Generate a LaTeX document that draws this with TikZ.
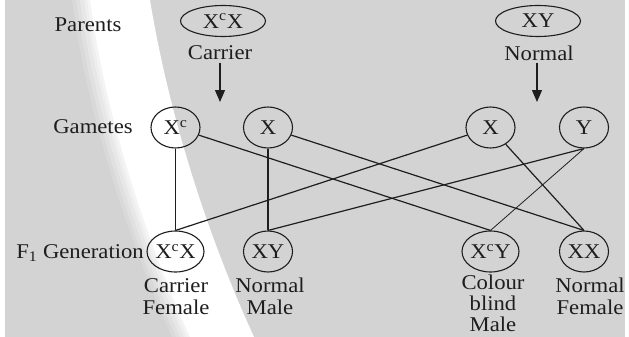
\documentclass[tikz,border=0pt]{standalone}
\usepackage{fontspec}
\setmainfont{Liberation Serif}[FakeStretch=1.08]
\usetikzlibrary{shapes.geometric,arrows.meta}
\definecolor{bg}{RGB}{211,211,211}
\definecolor{ink}{RGB}{30,30,30}
\newcommand{\Xsup}{X\textsuperscript{c}}
\begin{document}
\begin{tikzpicture}[x=1pt,y=-1pt,
  txt/.style={font=\fontsize{21}{22}\selectfont, inner sep=0pt, align=center, text=ink},
  gam/.style={draw=ink, ellipse, line width=1.1pt, minimum width=49pt, minimum height=41pt, inner sep=0pt, font=\fontsize{21}{22}\selectfont, text=ink},
  parent/.style={gam, minimum width=85pt, minimum height=31pt},
  link/.style={line width=1.2pt, draw=ink},
  downarrow/.style={line width=1.2pt, draw=ink, fill=ink, -{Triangle[width=10pt,length=12pt]}}]
% background
\useasboundingbox (0,0) rectangle (629,337);
\fill[white] (0,0) rectangle (629,337);
\fill[bg] (5,0) rectangle (625,337);
\foreach \s/\o in {18/0.15,14/0.2,10/0.25,6/0.3,3/0.4}{
  \fill[white, opacity=\o, xshift=-\s pt]
    (90,0) .. controls (104,105) and (140,225) .. (190,337)
    -- (254,337) .. controls (205,230) and (168,110) .. (150,0) -- cycle;
}
\fill[white]
    (90,0) .. controls (104,105) and (140,225) .. (190,337)
    -- (254,337) .. controls (205,230) and (168,110) .. (150,0) -- cycle;

% row labels
\node[txt] (lparents) at (88,25) {Parents};
\node[txt] (lgametes) at (93,127) {Gametes};
\node[txt, anchor=east] (lf1) at (144,253) {F\textsubscript{1} Generation};

% parents
\node[parent] (p1) at (223,21) {\Xsup X};
\node[parent] (p2) at (538,21) {XY};
\node[txt] (carrier) at (220,53) {Carrier};
\node[txt] (normal) at (539,53) {Normal};
\coordinate (a1s) at (220,63);
\coordinate (a1e) at (220,102);
\coordinate (a2s) at (537,63);
\coordinate (a2e) at (537,102);
\draw[downarrow] (a1s) -- (a1e);
\draw[downarrow] (a2s) -- (a2e);

% gametes
\node[gam] (g1) at (175.5,127.5) {\Xsup};
\node[gam] (g2) at (268,127.5) {X};
\node[gam] (g3) at (490.5,127.5) {X};
\node[gam] (g4) at (584,127.5) {Y};

% F1
\node[gam] (f1) at (175.5,251.5) {\Xsup X};
\node[gam] (f2) at (268,251.5) {XY};
\node[gam] (f3) at (490.5,251.5) {\Xsup Y};
\node[gam] (f4) at (584,251.5) {XX};

\node[txt, anchor=north] (d1) at (176,278) {Carrier\\Female};
\node[txt, anchor=north] (d2) at (270,278) {Normal\\Male};
\node[txt, anchor=north, font=\fontsize{21}{21}\selectfont] (d3) at (493,275) {Colour\\blind\\Male};
\node[txt, anchor=north] (d4) at (590,278) {Normal\\Female};

% connections
\draw[link] (g1) -- (f1.north);
\draw[link] (g1) -- (f3.north);
\draw[link] (g2) -- (f2.north);
\draw[link] (g2) -- (f4.north);
\draw[link] (g3) -- (f1.north);
\draw[link] (g3) -- (f4.north);
\draw[link] (g4.south) -- (f2.north);
\draw[link, line width=0.8pt] (g4.south) -- (f3.north);
\end{tikzpicture}
\end{document}
